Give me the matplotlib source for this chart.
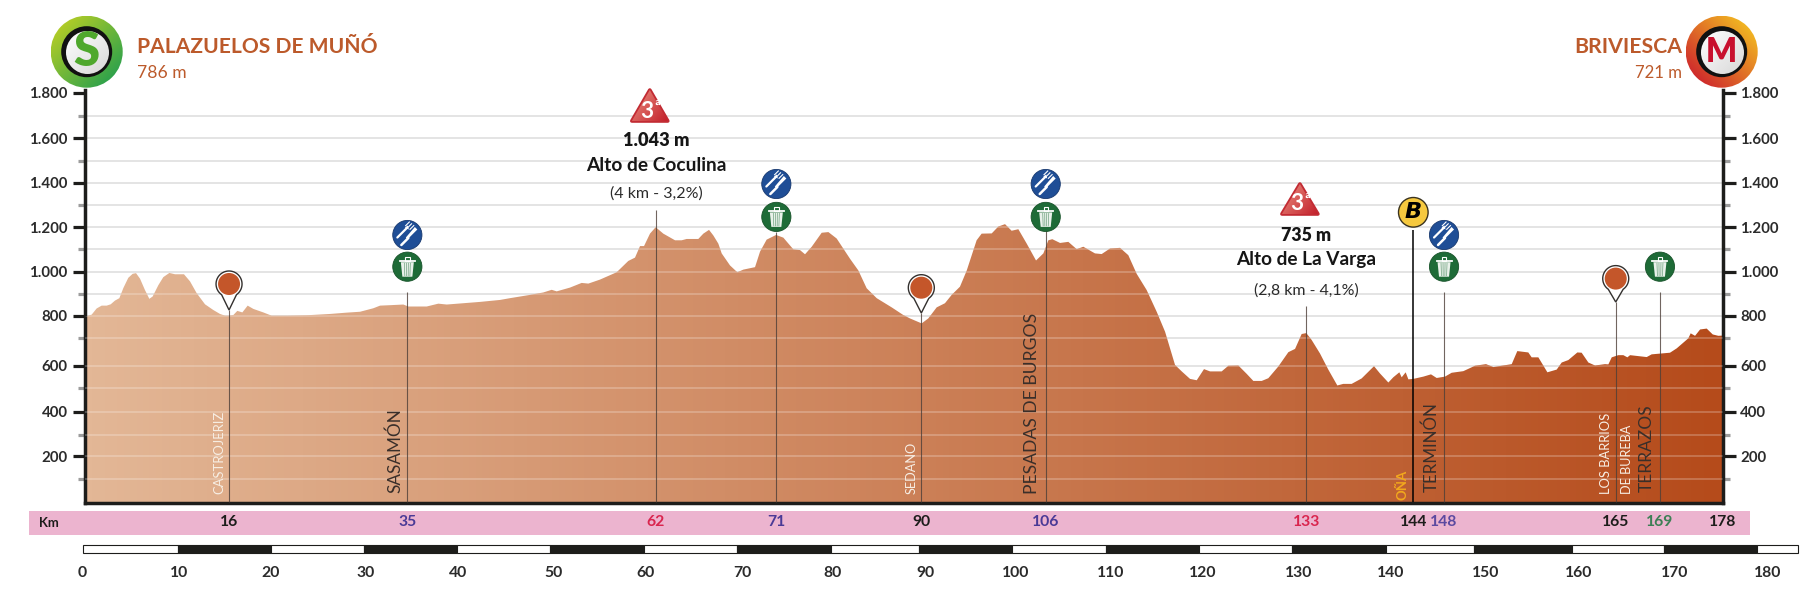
import numpy as np
import matplotlib
matplotlib.use("Agg")
import matplotlib.pyplot as plt
from matplotlib.colors import to_rgb
from matplotlib.patches import Circle, Polygon, Rectangle
from matplotlib.scale import FuncScale
from matplotlib.ticker import FixedFormatter, FixedLocator

# ---------- data ----------
profile_km = [0.0,0.72,1.25,1.79,2.33,2.76,3.22,3.69,4.12,4.65,5.12,5.48,5.91,6.44,6.91,7.27,7.88,8.41,9.06,9.67,
 10.63,11.28,11.99,12.89,13.78,14.5,15.04,15.47,15.93,16.36,16.9,17.47,18.08,19.15,20.05,21.66,23.81,26.32,28.11,29.54,
 30.97,31.69,32.76,34.19,34.73,36.7,37.95,38.85,40.64,42.43,44.58,45.64,47.79,49.22,50.12,50.66,52.09,53.34,54.06,55.31,
 57.1,58.35,59.07,59.61,60.04,60.68,61.29,62.11,63.37,64.08,64.62,65.87,66.41,67.02,67.48,68.02,68.38,69.27,70.06,70.71,
 71.96,72.5,73.21,74.22,75.0,76.08,76.79,77.33,78.05,79.12,79.84,80.73,82.16,83.06,83.95,85.03,86.64,87.89,88.6,89.68,
 89.86,90.57,91.47,92.36,93.08,93.97,94.69,95.76,96.3,97.38,98.09,98.81,99.52,100.24,101.14,102.14,102.93,103.46,103.89,104.72,
 105.61,106.51,107.22,108.47,109.19,110.09,111.16,112.05,112.95,114.02,115.1,116.0,117.07,117.79,118.68,119.4,120.18,120.83,122.08,122.8,
 123.87,124.77,125.48,126.38,127.09,128.17,129.24,129.96,130.67,131.17,131.74,132.64,133.53,134.5,135.14,136.04,137.11,138.44,139.08,139.98,
 140.51,141.16,141.41,141.84,142.13,142.66,143.74,144.56,145.17,146.06,146.78,148.03,149.29,150.47,151.26,153.23,153.83,155.01,155.37,156.09,
 157.06,158.06,158.6,159.31,160.28,160.74,161.46,162.18,163.25,163.61,163.97,164.68,165.22,165.65,165.94,167.73,168.26,170.23,170.95,172.2,
 172.45,172.92,173.46,174.17,174.82,175.42,175.88]
profile_elev = [795,805,833,846,846,852,869,880,926,972,990,993,968,917,877,888,939,975,994,988,
 988,956,903,852,826,808,800,800,803,822,815,846,831,815,800,800,802,808,814,818,
 834,846,848,851,842,842,855,851,857,863,872,880,895,906,918,911,928,949,946,964,
 997,1048,1063,1115,1115,1171,1200,1171,1141,1141,1147,1147,1171,1188,1163,1126,1082,1028,997,1009,
 1020,1090,1144,1165,1153,1100,1097,1078,1112,1175,1178,1149,1058,1005,925,880,838,803,788,769,
 766,788,838,857,895,932,1004,1141,1171,1172,1203,1214,1184,1191,1126,1050,1082,1141,1146,1129,
 1134,1101,1112,1082,1079,1104,1107,1074,990,917,818,729,602,574,541,535,584,574,574,599,
 600,563,532,532,544,596,649,661,719,723,694,644,582,512,519,519,543,597,565,525,
 548,570,548,570,539,541,551,561,545,551,568,575,599,605,593,605,653,648,630,630,
 570,582,611,620,648,647,611,600,605,604,630,638,638,630,638,631,641,647,663,700,
 722,711,739,743,717,711,712]

axis_elev = [0,100,200,300,400,500,600,700,800,900,1000,1100,1200,1300,1400,1500,1600,1700,1800,1815]
major_elev = [200,400,600,800,1000,1200,1400,1600,1800]
major_labels = ["200","400","600","800","1.000","1.200","1.400","1.600","1.800"]
minor_elev = [100,300,500,700,900,1100,1300,1500,1700]
grid_elev = [100,200,300,400,500,600,700,800,900,1000,1100,1200,1300,1400,1500,1600,1700]

event_km = [15.47,34.62,61.29,74.25,89.82,103.18,131.17,142.66,145.96,164.4,169.15,175.88]
event_labels = ["16","35","62","71","90","106","133","144","148","165","169","178"]
event_colors = ["#1d1d1b","#4a3a96","#d9254e","#4a3a96","#1d1d1b","#4a3a96","#d9254e","#1d1d1b","#5c4aa0","#1d1d1b","#3d7f55","#1d1d1b"]

ruler_labels = ["0","10","20","30","40","50","60","70","80","90","100","110","120","130","140","150","160","170","180"]
ruler_label_km = [-0.25,10.06,19.98,30.13,40.06,50.31,60.25,70.6,80.3,90.25,99.95,110.2,120.0,130.3,140.2,150.45,160.45,170.75,180.75]
ruler_edges = [-0.17,10.02,19.97,30.0,39.99,49.97,60.08,69.98,80.1,89.6,99.61,109.64,119.63,129.68,139.74,149.13,159.73,169.55,179.6,183.96]

# ---------- layout ----------
W, H = 1807, 611
X0, KMPX = 85.0, 9.311
Y0, YTOP = 503.3, 89.6
axis_px = [503.3,479,456.4,434.5,411.5,388.2,365.5,338.3,315.7,293.8,271.6,249.4,227.2,205.4,182.8,160.6,138,116.1,92.8,89.6]
plt.rcParams["font.family"] = ["Lato", "Liberation Sans", "DejaVu Sans"]

def kx(km):
    return X0 + KMPX * np.asarray(km)

fig = plt.figure(figsize=(W / 100, H / 100), dpi=100, facecolor="white")
XR = kx(175.88)
ax = fig.add_axes([X0 / W, 1 - Y0 / H, (XR - X0) / W, (Y0 - YTOP) / H])

neg_px = -np.array(axis_px)
ax.set_yscale(FuncScale(ax.yaxis, (lambda v: np.interp(v, axis_elev, neg_px),
                                   lambda p: np.interp(p, neg_px, axis_elev))))
ax.set_xlim(0, 175.88)
ax.set_ylim(0, 1815)

ax.hlines(grid_elev, 0, 175.88, color="#dcdcdc", lw=1.1, zorder=1)

xs = np.array([0] + profile_km + [profile_km[-1]])
ys = np.array([0] + profile_elev + [0])
poly = Polygon(np.c_[xs, ys], closed=True, transform=ax.transData, fc="none", ec="none")
ax.add_patch(poly)
c0, c1 = np.array(to_rgb("#e3b796")), np.array(to_rgb("#b54b1b"))
t = np.linspace(0, 1, 256)[None, :, None]
grad = c0[None, None, :] * (1 - t) + c1[None, None, :] * t
im = ax.imshow(grad, extent=(0, 175.88, 0, 1815), aspect="auto", zorder=2, origin="lower")
im.set_clip_path(poly)
wl = ax.hlines(grid_elev, 0, 175.88, color="white", lw=1.1, alpha=0.28, zorder=3)
wl.set_clip_path(poly)
ax.set_xlim(0, 175.88)
ax.set_ylim(0, 1815)

ax.spines["top"].set_visible(False)
for s in ("left", "right", "bottom"):
    ax.spines[s].set_linewidth(2.5)
    ax.spines[s].set_color("#1d1d1b")
ax.set_xticks([])
ax.yaxis.set_major_locator(FixedLocator(major_elev))
ax.yaxis.set_major_formatter(FixedFormatter(major_labels))
ax.yaxis.set_minor_locator(FixedLocator(minor_elev))
ax.tick_params(axis="y", which="major", length=9, width=2.3, color="#1d1d1b", left=True, right=True,
               labelleft=True, labelright=True, pad=3.5, labelsize=10.8, labelcolor="#2b2b2b")
ax.tick_params(axis="y", which="minor", length=5, width=2.3, color="#9d9d9d", left=True, right=True)
for lb in ax.get_yticklabels():
    lb.set_fontweight("bold")

ov = fig.add_axes([0, 0, 1, 1], zorder=5, facecolor="none")
ov.axis("off")

renderer = fig.canvas.get_renderer()
def fit(x, y, s, width, ha="center", va="center", rotation=0, **kw):
    txt = ov.text(x, y, s, ha=ha, va=va, rotation=rotation, fontsize=12, zorder=kw.pop("zorder", 8), **kw)
    bb = txt.get_window_extent(renderer)
    cur = bb.height if rotation == 90 else bb.width
    txt.set_fontsize(12 * width / cur)
    return txt

def grad_patch(patch, ca, cb, angle, zorder=6):
    ov.add_patch(patch)
    bb = patch.get_path().get_extents(patch.get_patch_transform())
    u, v = np.meshgrid(np.linspace(0, 1, 64), np.linspace(0, 1, 64))
    a = np.deg2rad(angle)
    m = u * np.cos(a) + v * np.sin(a)
    m = (m - m.min()) / (m.max() - m.min())
    A, B = np.array(to_rgb(ca)), np.array(to_rgb(cb))
    img = A[None, None, :] * (1 - m[..., None]) + B[None, None, :] * m[..., None]
    i = ov.imshow(img, extent=(bb.x0, bb.x1, bb.y1, bb.y0), origin="upper", aspect="auto", zorder=zorder)
    i.set_clip_path(patch)

def leader(km, top, color="#4d3f38", lw=0.8, alpha=0.8):
    ov.plot([kx(km)] * 2, [top, Y0 - 1], color=color, lw=lw, alpha=alpha, zorder=4, solid_capstyle="butt")

def food(cx, cy):
    ov.add_patch(Circle((cx, cy), 14.6, fc="#1f4e96", ec="#17386e", lw=0.6, zorder=6))
    # fork: handle, head and three tines
    ov.plot([cx - 10, cx - 0.5], [cy + 2.5, cy - 7], color="white", lw=1.6, zorder=7, solid_capstyle="round")
    ov.add_patch(Polygon([(cx - 2.5, cy - 7.5), (cx + 0.5, cy - 9.5), (cx + 1.5, cy - 5.5)], fc="white", ec="none", zorder=7))
    for dx, dy in [(-2.2, -1.8), (0, 0), (2.2, 1.8)]:
        ov.plot([cx + 0.5 + dx, cx + 4.2 + dx], [cy - 7.5 + dy, cy - 11.2 + dy], color="white", lw=0.8, zorder=7)
    # knife: handle and wider blade
    ov.plot([cx - 6, cx + 1], [cy + 10, cy + 3], color="white", lw=1.8, zorder=7, solid_capstyle="round")
    ov.add_patch(Polygon([(cx + 0, cy + 4.5), (cx + 10, cy - 5.5), (cx + 7.5, cy - 8), (cx - 1.5, cy + 2.5)], fc="white", ec="none", zorder=7))

def trash(cx, cy):
    ov.add_patch(Circle((cx, cy), 14.6, fc="#1e6b37", ec="#175229", lw=0.6, zorder=6))
    ov.add_patch(Polygon([(cx - 6.5, cy - 4.5), (cx + 6.5, cy - 4.5), (cx + 5, cy + 10), (cx - 5, cy + 10)],
                         fc="#e9f1ea", ec="none", zorder=7))
    for d in (-3, -1, 1, 3):
        ov.plot([cx + d, cx + d * 0.85], [cy - 3.5, cy + 9], color="#6fa27f", lw=0.5, zorder=8)
    ov.plot([cx - 7.5, cx + 7.5], [cy - 5.8, cy - 5.8], color="white", lw=1.3, zorder=7)
    ov.add_patch(Rectangle((cx - 2.2, cy - 10), 4.4, 4, fc="none", ec="white", lw=0.8, zorder=7))

def pin(cx, cy, tip):
    th = np.linspace(np.deg2rad(-55), np.deg2rad(235), 60)
    x = cx + 13 * np.cos(th)
    y = cy - 13 * np.sin(th)
    outline = np.r_[np.c_[x, y], [[cx, tip]]]
    ov.add_patch(Polygon(outline, closed=True, fc="white", ec="#33302e", lw=1.0, zorder=6))
    ov.add_patch(Circle((cx, cy), 11, fc="#c4562a", ec="none", zorder=7))

def climb(cx, ytop, ybot, half):
    pts = [(cx, ytop + 2), (cx + half - 1, ybot - 2), (cx - half + 1, ybot - 2)]
    ov.add_patch(Polygon(pts, closed=True, fc="none", ec="#c22b33", lw=2.6, joinstyle="round", zorder=6))
    grad_patch(Polygon(pts, closed=True, fc="none", ec="none"), "#ea8f80", "#c3202b", 35, zorder=6)
    fit(cx - 3, ybot - 12, "3", 13, color="white", weight="bold")
    fit(cx + 7.5, ybot - 16, "ª", 6, color="white", weight="bold")

# leaders
tops = [310, 291.5, 210.4, 232, 313, 230, 306, 230, 291.5, 302, 291.5]
for km, top in zip(event_km[:-1], tops):
    if km == event_km[7]:
        leader(km, top, color="black", lw=1.1, alpha=1)
    else:
        leader(km, top)

# icons
pin(kx(event_km[0]), 284, 310)
pin(kx(event_km[4]), 287.7, 313)
pin(kx(event_km[9]), 278.6, 302)
food(kx(event_km[1]), 235); trash(kx(event_km[1]), 266.7)
food(kx(event_km[3]), 184); trash(kx(event_km[3]), 216.9)
food(kx(event_km[5]), 184); trash(kx(event_km[5]), 216.9)
food(kx(event_km[8]), 235); trash(kx(event_km[8]), 266.7)
trash(kx(event_km[10]), 266.7)
ov.add_patch(Circle((kx(event_km[7]), 212.3), 14.8, fc="#f6c93f", ec="#3a3320", lw=1.0, zorder=6))
fit(kx(event_km[7]) - 0.5, 212.3, "B", 17, color="black", weight="bold", style="italic", family=["DejaVu Sans"])

# climbs
climb(649.8, 88, 123, 19)
climb(1299.9, 182, 216, 19)
DK = "#161616"
fit(656.3, 141, "1.043 m", 66, color=DK, weight="heavy")
fit(656.3, 165.6, "Alto de Coculina", 140, color=DK, weight="bold")
fit(656.3, 194, "(4 km - 3,2%)", 92, color="#2b2b2b")
fit(1306.5, 235.4, "735 m", 50, color=DK, weight="heavy")
fit(1306.5, 260, "Alto de La Varga", 139, color=DK, weight="bold")
fit(1306.5, 290.3, "(2,8 km - 4,1%)", 104, color="#2b2b2b")

# town names
def town(x, bottom, s, length, color, **kw):
    fit(x, bottom, s, length * 1.04, ha="center", va="bottom", rotation=90, color=color, **kw)
town(219.3, 494, "CASTROJERIZ", 80, "#f7eee4")
town(395.3, 493, "SASAMÓN", 81, "#3a2f2a")
town(912, 494, "SEDANO", 50, "#f7eee4")
town(1032.5, 494, "PESADAS DE BURGOS", 173, "#3a2f2a")
town(1402, 499.6, "OÑA", 29, "#f2a81d", weight="bold")
town(1431.5, 492, "TERMINÓN", 87, "#3a2f2a")
town(1605.7, 494, "LOS BARRIOS", 78, "#f7eee4")
town(1626.6, 494, "DE BUREBA", 66.5, "#f7eee4")
town(1647, 492, "TERRAZOS", 84, "#3a2f2a")

# header
HEAD = "#bc5a2b"
fit(136.6, 46.8, "PALAZUELOS DE MUÑÓ", 240, ha="left", color=HEAD, weight="bold")
fit(136.6, 72.5, "786 m", 49, ha="left", color=HEAD)
fit(1682, 46.8, "BRIVIESCA", 107.6, ha="right", color=HEAD, weight="bold")
fit(1682, 72.5, "721 m", 47, ha="right", color=HEAD)

def badge(cx, cy, ca, cb, angle, s, col, w):
    grad_patch(Circle((cx, cy), 36, fc="none", ec="none"), ca, cb, angle)
    ov.add_patch(Circle((cx, cy), 25.5, fc="#111111", zorder=7))
    grad_patch(Circle((cx + 0.8, cy + 0.8), 21.5, fc="none", ec="none"), "#ffffff", "#d8d8d8", 45, zorder=7.5)
    fit(cx, cy, s, w, color=col, weight="heavy", zorder=9)
badge(86.7, 51.7, "#c8d321", "#169a52", 45, "S", "#4fa82d", 26)
badge(1721.7, 51.7, "#f8d020", "#c8102e", 135, "M", "#c8102e", 31)

# kilometre band
ov.add_patch(Rectangle((28.7, 510.5), 1750.5 - 28.7, 24.2, fc="#ecb4cf", ec="none", zorder=2))
fit(49, 523, "Km", 20, color="#1d1d1b", weight="bold")
for km, lab, col in zip(event_km, event_labels, event_colors):
    ov.text(kx(km), 522.5, lab, ha="center", va="center", fontsize=11.3, color=col, weight="bold", zorder=8)

# ruler
for i, (a, b) in enumerate(zip(ruler_edges[:-1], ruler_edges[1:])):
    ov.add_patch(Rectangle((kx(a), 544.6), kx(b) - kx(a), 8.6, fc="white" if i % 2 == 0 else "#1d1d1b",
                           ec="#1d1d1b", lw=0.8, zorder=3))
for km, lab in zip(ruler_label_km, ruler_labels):
    ov.text(kx(km), 573, lab, ha="center", va="center", fontsize=11.3, color="#2b2b2b", weight="bold", zorder=8)

ov.set_xlim(0, W)
ov.set_ylim(H, 0)
fig.savefig("out.png", dpi=100)
